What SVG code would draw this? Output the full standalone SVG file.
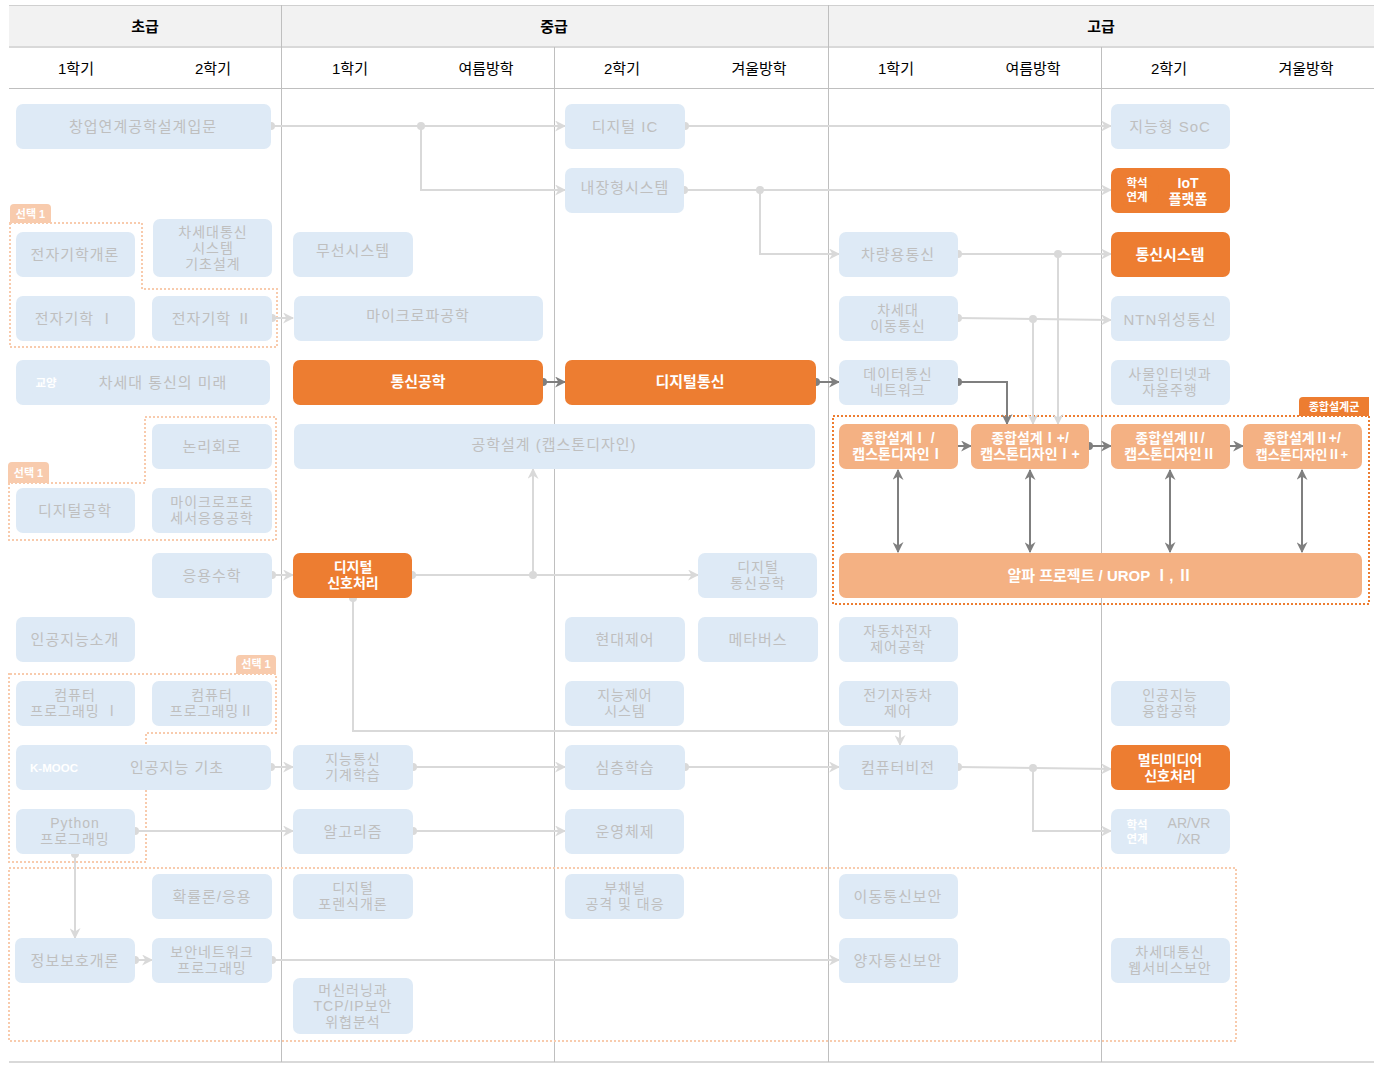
<svg xmlns="http://www.w3.org/2000/svg" width="1377" height="1068" viewBox="0 0 1377 1068">
<style>
text{font-family:"Liberation Sans","Noto Sans CJK KR",sans-serif;text-anchor:middle;dominant-baseline:central}
.n rect{fill:#deeaf6}
.n text{fill:#bfbfbf;font-size:15px;letter-spacing:1px}
.n text.m{font-size:14px}
.o rect{fill:#ed7d31}
.o text{fill:#fff;font-size:15px;font-weight:bold}
.o text.m{font-size:14px}
.lo rect{fill:#f4b183}
.lo text{fill:#fff;font-size:14px;font-weight:bold}
.hd{font-size:15px;fill:#000}
.hb{font-size:15px;fill:#000;font-weight:bold}
.grid{stroke:#bfbfbf;stroke-width:1;fill:none}
.l{stroke:#d9d9d9;stroke-width:2;fill:none}
.d{stroke:#7f7f7f;stroke-width:2;fill:none}
.la{marker-end:url(#al)}
.da{marker-end:url(#ad)}
.dd{marker-start:url(#ad);marker-end:url(#ad)}
.cl{fill:#d9d9d9}
.cd{fill:#7f7f7f}
.sel{fill:none;stroke:#f8cbad;stroke-width:2;stroke-dasharray:2 2}
.tab{fill:#f8cbad}
.tabt{fill:#fff;font-size:11px;font-weight:bold}
.bt{fill:#fff !important;font-size:11.5px !important;font-weight:bold;letter-spacing:0 !important}
</style>
<defs>
<marker id="al" viewBox="0 0 10 10" refX="9" refY="5" markerWidth="11" markerHeight="11" markerUnits="userSpaceOnUse" orient="auto-start-reverse"><path d="M0,0 L10,5 L0,10 L3,5 z" fill="#d9d9d9"/></marker>
<marker id="ad" viewBox="0 0 10 10" refX="9" refY="5" markerWidth="11" markerHeight="11" markerUnits="userSpaceOnUse" orient="auto-start-reverse"><path d="M0,0 L10,5 L0,10 L3,5 z" fill="#7f7f7f"/></marker>
</defs>

<g id="header">
<rect x="9" y="5" width="1365" height="42" fill="#f2f2f2"/>
<line x1="9" y1="5.5" x2="1374" y2="5.5" stroke="#d0d0d0" stroke-width="1"/>
<line x1="9" y1="47" x2="1374" y2="47" stroke="#d9d9d9" stroke-width="2"/>
<line x1="9" y1="88.5" x2="1374" y2="88.5" class="grid"/>
<line x1="9" y1="1062" x2="1374" y2="1062" stroke="#d9d9d9" stroke-width="2"/>
<line x1="281.5" y1="5" x2="281.5" y2="1062" class="grid"/>
<line x1="554.5" y1="47" x2="554.5" y2="1062" class="grid"/>
<line x1="828.5" y1="5" x2="828.5" y2="1062" class="grid"/>
<line x1="1101.5" y1="47" x2="1101.5" y2="1062" class="grid"/>
<text class="hb" x="145" y="26">초급</text>
<text class="hb" x="554" y="26">중급</text>
<text class="hb" x="1101" y="26">고급</text>
<text class="hd" x="76" y="68">1학기</text>
<text class="hd" x="213" y="68">2학기</text>
<text class="hd" x="350" y="68">1학기</text>
<text class="hd" x="486" y="68">여름방학</text>
<text class="hd" x="622" y="68">2학기</text>
<text class="hd" x="759" y="68">겨울방학</text>
<text class="hd" x="896" y="68">1학기</text>
<text class="hd" x="1033" y="68">여름방학</text>
<text class="hd" x="1169" y="68">2학기</text>
<text class="hd" x="1306" y="68">겨울방학</text>
</g>

<g id="groups">
<path class="sel" d="M10,223 H142 V289 H277 V347 H10 Z"/>
<path class="tab" d="M10,223 V208 a4,4 0 0 1 4,-4 H47 a4,4 0 0 1 4,4 V223 Z"/>
<text class="tabt" x="30.5" y="214">선택 1</text>
<path class="sel" d="M145,417 H276 V540 H9 V483 H145 Z"/>
<path class="tab" d="M8,483 V466 a4,4 0 0 1 4,-4 H45 a4,4 0 0 1 4,4 V483 Z"/>
<text class="tabt" x="28.5" y="473">선택 1</text>
<path class="sel" d="M10,674 H276 V733 H146 V862 H9 V674 Z"/>
<path class="tab" d="M236,674 V659 a4,4 0 0 1 4,-4 H272 a4,4 0 0 1 4,4 V674 Z"/>
<text class="tabt" x="256" y="664">선택 1</text>
<rect class="sel" x="9" y="868" width="1227" height="173"/>
<rect x="833" y="416" width="536" height="188" fill="none" stroke="#ed7d31" stroke-width="2" stroke-dasharray="2 2"/>
<path d="M1299,416 V401 a4,4 0 0 1 4,-4 H1369 V416 Z" fill="#ed7d31"/>
<text class="tabt" x="1334" y="407">종합설계군</text>
</g>

<g id="connectors">
<path class="l la" d="M271,126 H565"/>
<path class="l la" d="M421,126 V190 H565"/>
<path class="l la" d="M685,126 H1111"/>
<path class="l la" d="M684,190 H1111"/>
<path class="l la" d="M760,190 V254 H839"/>
<path class="l la" d="M958,254 H1111"/>
<path class="l la" d="M1058,254 V424"/>
<path class="l la" d="M958,318 L1111,320"/>
<path class="l la" d="M1033,319 V424"/>
<path class="d da" d="M958,382 H1007 V424"/>
<path class="l la" d="M272,318 H293"/>
<path class="d da" d="M543,382 H565"/>
<path class="d da" d="M816,382 H839"/>
<path class="d da" d="M958,446 H971"/>
<path class="d da" d="M1089,446 H1111"/>
<path class="d da" d="M1230,446 H1243"/>
<path class="d dd" d="M898,470 V552"/>
<path class="d dd" d="M1030,470 V552"/>
<path class="d dd" d="M1170,470 V552"/>
<path class="d dd" d="M1302,470 V552"/>
<path class="l la" d="M272,575 H293"/>
<path class="l la" d="M412,575 H698"/>
<path class="l la" d="M533,575 V469"/>
<path class="l la" d="M353,598 V731 H900 V745"/>
<path class="l la" d="M271,767 H293"/>
<path class="l la" d="M413,767 H565"/>
<path class="l la" d="M685,767 H839"/>
<path class="l la" d="M958,767 L1111,769"/>
<path class="l la" d="M1033,768 V831 H1111"/>
<path class="l la" d="M135,831 H293"/>
<path class="l la" d="M413,831 H565"/>
<path class="l la" d="M75,854 V938"/>
<path class="l la" d="M135,960 H152"/>
<path class="l la" d="M272,960 H839"/>
<circle class="cl" cx="271" cy="126" r="4"/>
<circle class="cl" cx="421" cy="126" r="4"/>
<circle class="cl" cx="685" cy="126" r="4"/>
<circle class="cl" cx="684" cy="190" r="4"/>
<circle class="cl" cx="760" cy="190" r="4"/>
<circle class="cl" cx="958" cy="254" r="4"/>
<circle class="cl" cx="1058" cy="254" r="4"/>
<circle class="cl" cx="958" cy="318" r="4"/>
<circle class="cl" cx="1033" cy="319" r="4"/>
<circle class="cd" cx="958" cy="382" r="4"/>
<circle class="cl" cx="272" cy="318" r="4"/>
<circle class="cd" cx="543" cy="382" r="4"/>
<circle class="cd" cx="816" cy="382" r="4"/>
<circle class="cd" cx="1089" cy="446" r="4"/>
<circle class="cl" cx="272" cy="575" r="4"/>
<circle class="cl" cx="412" cy="575" r="4"/>
<circle class="cl" cx="533" cy="575" r="4"/>
<circle class="cl" cx="353" cy="598" r="4"/>
<circle class="cl" cx="271" cy="767" r="4"/>
<circle class="cl" cx="413" cy="767" r="4"/>
<circle class="cl" cx="685" cy="767" r="4"/>
<circle class="cl" cx="958" cy="767" r="4"/>
<circle class="cl" cx="1033" cy="768" r="4"/>
<circle class="cl" cx="135" cy="831" r="4"/>
<circle class="cl" cx="413" cy="831" r="4"/>
<circle class="cl" cx="75" cy="854" r="4"/>
<circle class="cl" cx="135" cy="960" r="4"/>
<circle class="cl" cx="272" cy="960" r="4"/>
</g>

<g id="n-changup" class="n"><rect x="16" y="104" width="255" height="45" rx="7"/><text x="143" y="126">창업연계공학설계입문</text></g>
<g id="n-digic" class="n"><rect x="565" y="104" width="120" height="45" rx="7"/><text x="625" y="126">디지털 IC</text></g>
<g id="n-soc" class="n"><rect x="1111" y="104" width="119" height="45" rx="7"/><text x="1170" y="126">지능형 SoC</text></g>
<g id="n-embedded" class="n"><rect x="565" y="168" width="119" height="45" rx="7"/><text x="625" y="187">내장형시스템</text></g>
<g id="n-iot" class="o"><rect x="1111" y="168" width="119" height="45" rx="7"/><rect x="1115" y="174" width="44" height="32" rx="16" fill="#2e75b6"/><text class="bt" x="1137" y="183"><tspan x="1137">학석</tspan><tspan x="1137" dy="14">연계</tspan></text><text class="m" x="1188" y="183"><tspan x="1188">IoT</tspan><tspan x="1188" dy="16">플랫폼</tspan></text></g>
<g id="n-em-intro" class="n"><rect x="16" y="232" width="119" height="45" rx="7"/><text x="75" y="254">전자기학개론</text></g>
<g id="n-nextcomm" class="n"><rect x="153" y="219" width="119" height="58" rx="7"/><text class="m" x="213" y="232"><tspan x="213">차세대통신</tspan><tspan x="213" dy="16">시스템</tspan><tspan x="213" dy="16">기초설계</tspan></text></g>
<g id="n-wireless" class="n"><rect x="293" y="232" width="120" height="45" rx="7"/><text x="353" y="250">무선시스템</text></g>
<g id="n-vehicle" class="n"><rect x="839" y="232" width="119" height="45" rx="7"/><text x="898" y="254">차량용통신</text></g>
<g id="n-commsys" class="o"><rect x="1111" y="232" width="119" height="45" rx="7"/><text x="1170" y="254">통신시스템</text></g>
<g id="n-em1" class="n"><rect x="16" y="296" width="119" height="45" rx="7"/><text x="75" y="318">전자기학 Ⅰ</text></g>
<g id="n-em2" class="n"><rect x="152" y="296" width="120" height="45" rx="7"/><text x="212" y="318">전자기학 Ⅱ</text></g>
<g id="n-microwave" class="n"><rect x="294" y="296" width="249" height="45" rx="7"/><text x="418" y="315">마이크로파공학</text></g>
<g id="n-nextmobile" class="n"><rect x="839" y="296" width="119" height="45" rx="7"/><text class="m" x="898" y="310"><tspan x="898">차세대</tspan><tspan x="898" dy="16">이동통신</tspan></text></g>
<g id="n-ntn" class="n"><rect x="1111" y="296" width="119" height="45" rx="7"/><text x="1170" y="319">NTN위성통신</text></g>
<g id="n-future" class="n"><rect x="16" y="360" width="254" height="45" rx="7"/><rect x="24" y="371" width="44" height="23" rx="10" fill="#b4c7e7"/><text class="bt" x="46" y="382.5">교양</text><text x="163" y="382">차세대 통신의 미래</text></g>
<g id="n-commeng" class="o"><rect x="293" y="360" width="250" height="45" rx="7"/><text x="418" y="381">통신공학</text></g>
<g id="n-digcomm" class="o"><rect x="565" y="360" width="251" height="45" rx="7"/><text x="690" y="381">디지털통신</text></g>
<g id="n-datanet" class="n"><rect x="839" y="360" width="119" height="45" rx="7"/><text class="m" x="898" y="374"><tspan x="898">데이터통신</tspan><tspan x="898" dy="16">네트워크</tspan></text></g>
<g id="n-iotauto" class="n"><rect x="1111" y="360" width="119" height="45" rx="7"/><text class="m" x="1170" y="374"><tspan x="1170">사물인터넷과</tspan><tspan x="1170" dy="16">자율주행</tspan></text></g>
<g id="n-logic" class="n"><rect x="152" y="424" width="120" height="45" rx="7"/><text x="212" y="446">논리회로</text></g>
<g id="n-capstone" class="n"><rect x="294" y="424" width="521" height="45" rx="7"/><text x="554" y="444">공학설계 (캡스톤디자인)</text></g>
<g id="n-cd1" class="lo"><rect x="839" y="424" width="119" height="45" rx="7"/><text x="898" y="438"><tspan x="898">종합설계Ⅰ /</tspan><tspan x="898" dy="16">캡스톤디자인Ⅰ</tspan></text></g>
<g id="n-cd1p" class="lo"><rect x="971" y="424" width="118" height="45" rx="7"/><text x="1030" y="438"><tspan x="1030">종합설계Ⅰ+/</tspan><tspan x="1030" dy="16">캡스톤디자인Ⅰ+</tspan></text></g>
<g id="n-cd2" class="lo"><rect x="1111" y="424" width="119" height="45" rx="7"/><text x="1170" y="438"><tspan x="1170">종합설계Ⅱ/</tspan><tspan x="1170" dy="16">캡스톤디자인Ⅱ</tspan></text></g>
<g id="n-cd2p" class="lo"><rect x="1243" y="424" width="119" height="45" rx="7"/><text x="1302" y="438"><tspan x="1302">종합설계Ⅱ+/</tspan><tspan x="1302" dy="16" style="font-size:13px">캡스톤디자인Ⅱ+</tspan></text></g>
<g id="n-digeng" class="n"><rect x="16" y="488" width="119" height="45" rx="7"/><text x="75" y="510">디지털공학</text></g>
<g id="n-micro" class="n"><rect x="152" y="488" width="120" height="45" rx="7"/><text class="m" x="212" y="502"><tspan x="212">마이크로프로</tspan><tspan x="212" dy="16">세서응용공학</tspan></text></g>
<g id="n-appmath" class="n"><rect x="152" y="553" width="120" height="45" rx="7"/><text x="212" y="575">응용수학</text></g>
<g id="n-dsp" class="o"><rect x="293" y="553" width="119" height="45" rx="7"/><text class="m" x="353" y="567"><tspan x="353">디지털</tspan><tspan x="353" dy="16">신호처리</tspan></text></g>
<g id="n-digcommeng" class="n"><rect x="698" y="553" width="119" height="45" rx="7"/><text class="m" x="758" y="567"><tspan x="758">디지털</tspan><tspan x="758" dy="16">통신공학</tspan></text></g>
<g id="n-alpha" class="lo"><rect x="839" y="553" width="523" height="45" rx="7"/><text x="1100" y="575" style="font-size:15px">알파 프로젝트 / UROP Ⅰ, Ⅱ</text></g>
<g id="n-aiintro" class="n"><rect x="16" y="617" width="119" height="45" rx="7"/><text x="75" y="639">인공지능소개</text></g>
<g id="n-modctrl" class="n"><rect x="565" y="617" width="120" height="45" rx="7"/><text x="625" y="639">현대제어</text></g>
<g id="n-metaverse" class="n"><rect x="698" y="617" width="120" height="45" rx="7"/><text x="758" y="639">메타버스</text></g>
<g id="n-autoelec" class="n"><rect x="839" y="617" width="119" height="45" rx="7"/><text class="m" x="898" y="631"><tspan x="898">자동차전자</tspan><tspan x="898" dy="16">제어공학</tspan></text></g>
<g id="n-prog1" class="n"><rect x="16" y="681" width="119" height="45" rx="7"/><text class="m" x="75" y="695"><tspan x="75">컴퓨터</tspan><tspan x="75" dy="16">프로그래밍 Ⅰ</tspan></text></g>
<g id="n-prog2" class="n"><rect x="152" y="681" width="120" height="45" rx="7"/><text class="m" x="212" y="695"><tspan x="212">컴퓨터</tspan><tspan x="212" dy="16">프로그래밍Ⅱ</tspan></text></g>
<g id="n-intctrl" class="n"><rect x="565" y="681" width="119" height="45" rx="7"/><text class="m" x="625" y="695"><tspan x="625">지능제어</tspan><tspan x="625" dy="16">시스템</tspan></text></g>
<g id="n-ev" class="n"><rect x="839" y="681" width="119" height="45" rx="7"/><text class="m" x="898" y="695"><tspan x="898">전기자동차</tspan><tspan x="898" dy="16">제어</tspan></text></g>
<g id="n-aifusion" class="n"><rect x="1111" y="681" width="119" height="45" rx="7"/><text class="m" x="1170" y="695"><tspan x="1170">인공지능</tspan><tspan x="1170" dy="16">융합공학</tspan></text></g>
<g id="n-aibasic" class="n"><rect x="16" y="745" width="255" height="45" rx="7"/><rect x="23" y="757" width="68" height="22" rx="10" fill="#9dc3e6"/><text class="bt" x="54" y="768">K-MOOC</text><text x="177" y="767">인공지능 기초</text></g>
<g id="n-ml" class="n"><rect x="293" y="745" width="120" height="45" rx="7"/><text class="m" x="353" y="759"><tspan x="353">지능통신</tspan><tspan x="353" dy="16">기계학습</tspan></text></g>
<g id="n-dl" class="n"><rect x="565" y="745" width="120" height="45" rx="7"/><text x="625" y="767">심층학습</text></g>
<g id="n-cv" class="n"><rect x="839" y="745" width="119" height="45" rx="7"/><text x="898" y="767">컴퓨터비전</text></g>
<g id="n-mmsp" class="o"><rect x="1111" y="745" width="119" height="45" rx="7"/><text class="m" x="1170" y="760"><tspan x="1170">멀티미디어</tspan><tspan x="1170" dy="16">신호처리</tspan></text></g>
<g id="n-python" class="n"><rect x="16" y="809" width="119" height="45" rx="7"/><text class="m" x="75" y="823"><tspan x="75">Python</tspan><tspan x="75" dy="16">프로그래밍</tspan></text></g>
<g id="n-algo" class="n"><rect x="293" y="809" width="120" height="45" rx="7"/><text x="353" y="831">알고리즘</text></g>
<g id="n-os" class="n"><rect x="565" y="809" width="119" height="45" rx="7"/><text x="625" y="831">운영체제</text></g>
<g id="n-arvr" class="n"><rect x="1111" y="809" width="119" height="45" rx="7"/><rect x="1115" y="816" width="44" height="32" rx="16" fill="#9dc3e6"/><text class="bt" x="1137" y="825"><tspan x="1137">학석</tspan><tspan x="1137" dy="14">연계</tspan></text><text class="m" x="1189" y="823" style="letter-spacing:0"><tspan x="1189">AR/VR</tspan><tspan x="1189" dy="16">/XR</tspan></text></g>
<g id="n-prob" class="n"><rect x="152" y="874" width="120" height="45" rx="7"/><text x="212" y="896">확률론/응용</text></g>
<g id="n-forensic" class="n"><rect x="293" y="874" width="120" height="45" rx="7"/><text class="m" x="353" y="888"><tspan x="353">디지털</tspan><tspan x="353" dy="16">포렌식개론</tspan></text></g>
<g id="n-sidechannel" class="n"><rect x="565" y="874" width="119" height="45" rx="7"/><text class="m" x="625" y="888"><tspan x="625">부채널</tspan><tspan x="625" dy="16">공격 및 대응</tspan></text></g>
<g id="n-mobsec" class="n"><rect x="839" y="874" width="119" height="45" rx="7"/><text x="898" y="896">이동통신보안</text></g>
<g id="n-infosec" class="n"><rect x="15" y="938" width="120" height="45" rx="7"/><text x="75" y="960">정보보호개론</text></g>
<g id="n-secnet" class="n"><rect x="152" y="938" width="120" height="45" rx="7"/><text class="m" x="212" y="952"><tspan x="212">보안네트워크</tspan><tspan x="212" dy="16">프로그래밍</tspan></text></g>
<g id="n-quantum" class="n"><rect x="839" y="938" width="119" height="45" rx="7"/><text x="898" y="960">양자통신보안</text></g>
<g id="n-websec" class="n"><rect x="1111" y="938" width="119" height="45" rx="7"/><text class="m" x="1170" y="952"><tspan x="1170">차세대통신</tspan><tspan x="1170" dy="16">웹서비스보안</tspan></text></g>
<g id="n-mltcp" class="n"><rect x="293" y="978" width="120" height="56" rx="7"/><text class="m" x="353" y="990"><tspan x="353">머신러닝과</tspan><tspan x="353" dy="16">TCP/IP보안</tspan><tspan x="353" dy="16">위협분석</tspan></text></g>
</svg>
